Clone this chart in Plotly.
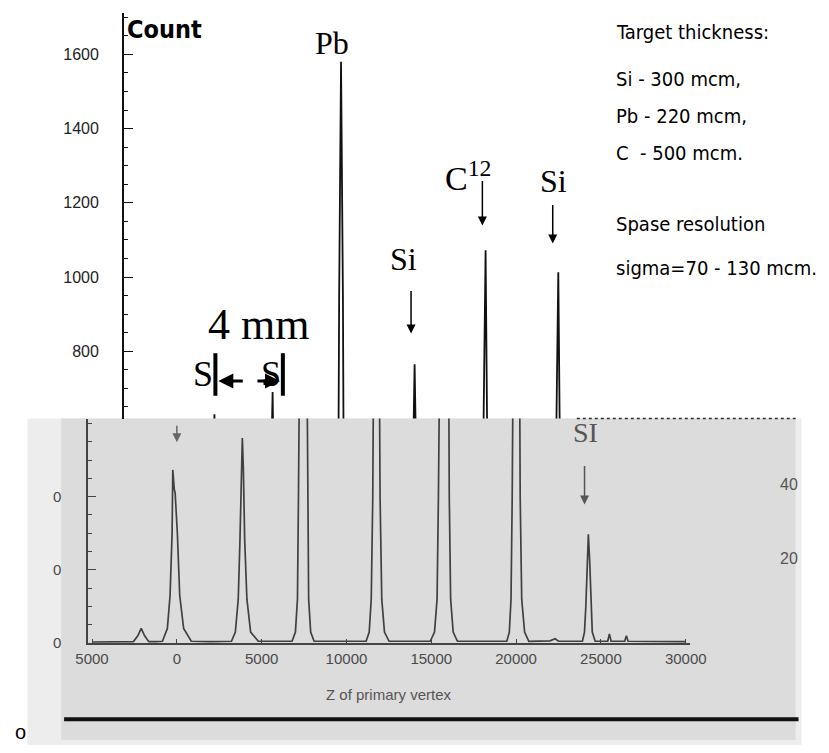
import plotly.graph_objects as go

# ---------------- data ----------------
# Upper spectrum: target peaks, position along the beam (mm) and count at the peak
top_labels = ["Si", "Si", "Pb", "Si", "C12", "Si"]
top_peak_mm = [0.0, 3.4, 7.4, 11.7, 15.85, 20.1]
top_peak_counts = [630, 690, 1580, 765, 1072, 1013]
top_tick_vals = [800, 1000, 1200, 1400, 1600]

# Lower spectrum: Z of primary vertex vs. entries
bottom_z = [
    -5000, -3500,
    -2560, -2300, -2100, -1900, -1650, -1200,
    -850, -560, -400, -280, -240, -150, -100, 30, 170, 400, 850, 2000,
    3220, 3450, 3620, 3720, 3800, 3860, 3920, 4000, 4130, 4350, 4800, 5800,
    6790, 6990, 7110, 7170, 7230, 7440, 7650, 7710, 7770, 7890, 8090, 9500,
    11160, 11340, 11460, 11550, 11600, 11760, 11920, 11980, 12080, 12240, 12510, 13500,
    14940, 15190, 15340, 15420, 15470, 15740, 16010, 16060, 16140, 16290, 16540, 18000,
    19450, 19600, 19700, 19770, 19810, 20000, 20190, 20240, 20330, 20500, 20750,
    22000, 22300, 22500,
    23910, 24030, 24110, 24180, 24260, 24340, 24410, 24490, 24660,
    25400, 25500, 25600, 26400, 26500, 26600, 30000,
]
bottom_counts = [
    0.3, 0.4,
    0.4, 2, 4, 2, 0.4, 0.4,
    0.5, 4, 13, 30, 47.3, 42, 41, 30, 13, 4, 0.5, 0.4,
    0.5, 3, 12, 28, 50, 56, 48, 28, 12, 3, 0.5, 0.5,
    0.5, 3, 12, 40, 90, 200, 90, 40, 12, 3, 0.5, 0.5,
    0.5, 3, 12, 40, 90, 200, 90, 40, 12, 3, 0.5, 0.5,
    0.5, 3, 12, 40, 90, 200, 90, 40, 12, 3, 0.5, 0.5,
    0.5, 3, 12, 40, 90, 200, 90, 40, 12, 3, 0.5,
    0.6, 1.2, 0.5,
    0.5, 3, 10, 22, 29.7, 22, 10, 3, 0.5,
    0.5, 2.5, 0.5, 0.5, 2, 0.5, 0.4,
]
bottom_tick_vals = [-5000, 0, 5000, 10000, 15000, 20000, 25000, 30000]
bottom_tick_text = ["5000", "0", "5000", "10000", "15000", "20000", "25000", "30000"]
bottom_y_vals = [0, 20, 40]
bottom_y_text = ["0", "0", "0"]

target_lines = [
    "Target thickness:",
    "Si - 300 mcm,",
    "Pb - 220 mcm,",
    "C  - 500 mcm.",
    "Spase resolution",
    "sigma=70 - 130 mcm.",
]

# ---------------- geometry helpers ----------------
W, H = 829, 753


def X(px):
    return px / W


def Y(py):
    return 1 - py / H


# narrow peak outline used for each line in the upper spectrum (mm offset, fraction of height)
PEAK_DX = [-0.2, -0.11, 0.0, 0.11, 0.2]
PEAK_FR = [0.0, 0.6, 1.0, 0.6, 0.0]

top_x, top_y = [], []
for c, h in zip(top_peak_mm, top_peak_counts):
    for dx, fr in zip(PEAK_DX, PEAK_FR):
        top_x.append(c + dx)
        top_y.append(h * fr)

fig = go.Figure()

fig.add_trace(go.Scatter(
    x=top_x, y=top_y, mode="lines",
    line=dict(color="#111111", width=1.8),
    xaxis="x", yaxis="y", hoverinfo="skip", showlegend=False,
))

fig.add_trace(go.Scatter(
    x=bottom_z, y=bottom_counts, mode="lines",
    line=dict(color="#404040", width=1.7),
    xaxis="x2", yaxis="y2", hoverinfo="skip", showlegend=False,
))

# ---------------- background panel for the lower plot ----------------
shapes = [
    dict(type="rect", xref="paper", yref="paper", x0=X(15), x1=X(818), y0=Y(753), y1=Y(423),
         fillcolor="#ededed", line=dict(width=0), layer="below"),
    dict(type="rect", xref="paper", yref="paper", x0=X(50), x1=X(812), y0=Y(748), y1=Y(423),
         fillcolor="#dcdcdc", line=dict(width=0), layer="below"),
    dict(type="line", xref="paper", yref="paper", x0=X(585), x1=X(812), y0=Y(423), y1=Y(423),
         line=dict(color="#333333", width=1.5, dash="dot")),
    dict(type="line", xref="paper", yref="paper", x0=X(53), x1=X(815), y0=Y(727), y1=Y(727),
         line=dict(color="#111111", width=4)),
    # end bars of the 4 mm dimension
    dict(type="line", xref="paper", yref="paper", x0=X(210), x1=X(210), y0=Y(400), y1=Y(357),
         line=dict(color="#000000", width=4)),
    dict(type="line", xref="paper", yref="paper", x0=X(280), x1=X(280), y0=Y(400), y1=Y(357),
         line=dict(color="#000000", width=4)),
]

NARROW = "DejaVu Sans Condensed, Liberation Sans Narrow, Arial Narrow, sans-serif"
SANS = "Liberation Sans, Arial, sans-serif"
SERIF = "Liberation Serif, Times New Roman, serif"

ann = []


def text(px, py, s, size, family=SERIF, color="#000000", xanchor="center"):
    ann.append(dict(x=X(px), y=Y(py), xref="paper", yref="paper", text=s, showarrow=False,
                    xanchor=xanchor, yanchor="middle", font=dict(family=family, size=size, color=color)))


def arrow(px, py, length, color="#000000", width=1.5, dx=0, head=2, size=1.2):
    ann.append(dict(x=X(px), y=Y(py), xref="paper", yref="paper", text="", showarrow=True,
                    ax=dx, ay=-length if dx == 0 else 0, arrowhead=head, arrowsize=size,
                    arrowwidth=width, arrowcolor=color))


text(157, 30, "<b>Count</b>", 25, family=NARROW)
text(331, 43, "Pb", 32)
text(405, 262, "Si", 32)
text(472, 178, "C<sup>12</sup>", 34)
text(561, 183, "Si", 32)
text(255, 328, "4 mm", 44)
text(197, 378, "S", 36)
text(268, 378, "S", 36)

arrow(413, 337, 44)
arrow(487, 228, 46)
arrow(560, 246, 40)
arrow(213, 385, 0, width=3, dx=26, head=2, size=1)
arrow(277, 385, 0, width=3, dx=-24, head=2, size=1)

line_y = [32, 80, 117, 155, 226, 271]
for s, py in zip(target_lines, line_y):
    text(624, py, s, 20, family=NARROW, xanchor="left")

# lower panel labels
text(594, 437, "SI", 28, color="#555555")
arrow(593, 510, 40, color="#555555", width=1.5)
arrow(170, 447, 18, color="#666666", width=1.5)
text(805, 490, "40", 16, family=SANS, color="#555555")
text(805, 565, "20", 16, family=SANS, color="#555555")
text(390, 702, "Z of primary vertex", 15, family=SANS, color="#555555")
text(0, 740, "o", 20, family=SANS, xanchor="left")

# ---------------- axes ----------------
fig.update_layout(
    width=W, height=H,
    margin=dict(l=0, r=0, t=0, b=0),
    paper_bgcolor="white",
    plot_bgcolor="rgba(0,0,0,0)",
    showlegend=False,
    shapes=shapes,
    annotations=ann,
    xaxis=dict(domain=[X(115), 1], range=[(115 - 209) / 17.75, (829 - 209) / 17.75],
               visible=False, showgrid=False, zeroline=False),
    yaxis=dict(domain=[Y(423), Y(13)], range=[(655 - 423) / 0.375, (655 - 13) / 0.375],
               showline=True, linecolor="#111111", linewidth=1.5,
               ticks="inside", ticklen=9, tickcolor="#111111", tickwidth=1.2,
               tickvals=top_tick_vals, showgrid=False, zeroline=False,
               ticklabelstandoff=20,
               tickfont=dict(family=SANS, size=16, color="#222222"),
               minor=dict(dtick=50, ticks="inside", ticklen=4, tickcolor="#111111", tickwidth=1, showgrid=False)),
    xaxis2=dict(domain=[X(78), X(702)], range=[-5227, 30227], anchor="y2",
                showline=True, linecolor="#444444", linewidth=1.5,
                ticks="inside", ticklen=4, tickcolor="#444444",
                tickvals=bottom_tick_vals, ticktext=bottom_tick_text,
                showgrid=False, zeroline=False, ticklabelstandoff=1,
                tickfont=dict(family=SANS, size=15, color="#4a4a4a")),
    yaxis2=dict(domain=[Y(650), Y(423)], range=[0, 61.35], anchor="x2",
                showline=True, linecolor="#444444", linewidth=1.5,
                ticks="inside", ticklen=8, tickcolor="#444444",
                tickvals=bottom_y_vals, ticktext=bottom_y_text,
                showgrid=False, zeroline=False, ticklabelstandoff=22,
                tickfont=dict(family=SANS, size=15, color="#4a4a4a"),
                minor=dict(dtick=5, ticks="inside", ticklen=4, tickcolor="#444444", showgrid=False)),
)

fig.write_html("out.html")
